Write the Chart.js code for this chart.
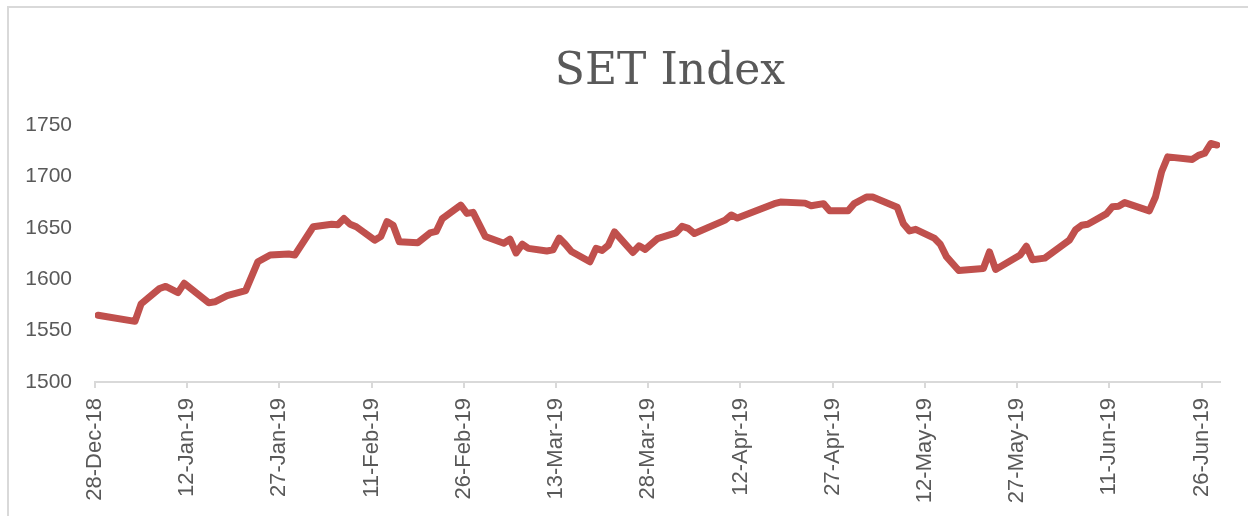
<!DOCTYPE html>
<html>
<head>
<meta charset="utf-8">
<script src="https://cdn.jsdelivr.net/npm/chart.js@4"></script>
<style>
  html, body { margin: 0; padding: 0; background: #ffffff; }
  #wrap { position: relative; width: 1248px; height: 516px; overflow: hidden; background: #ffffff; }
  #frame { position: absolute; left: 7px; top: 6px; width: 1300px; height: 600px; border-left: 2px solid #d9d9d9; border-top: 2px solid #d9d9d9; }
  #c { position: absolute; left: 0; top: 0; }
</style>
</head>
<body>
<div id="wrap">
  <div id="frame"></div>
  <canvas id="c" width="1248" height="516"></canvas>
</div>
<script>
const titleText = 'SET Index';
const startDate = '2018-12-28';

const dates = [
  '2018-12-28','2019-01-03','2019-01-04','2019-01-07','2019-01-08','2019-01-10','2019-01-11',
  '2019-01-15','2019-01-16','2019-01-18','2019-01-21','2019-01-23','2019-01-25','2019-01-28',
  '2019-01-29','2019-02-01','2019-02-04','2019-02-05','2019-02-06','2019-02-07','2019-02-08',
  '2019-02-11','2019-02-12','2019-02-13','2019-02-14','2019-02-15','2019-02-18','2019-02-20',
  '2019-02-21','2019-02-22','2019-02-25','2019-02-26','2019-02-27','2019-03-01','2019-03-04',
  '2019-03-05','2019-03-06','2019-03-07','2019-03-08','2019-03-11','2019-03-12','2019-03-13',
  '2019-03-14','2019-03-15','2019-03-18','2019-03-19','2019-03-20','2019-03-21','2019-03-22',
  '2019-03-25','2019-03-26','2019-03-27','2019-03-29','2019-04-01','2019-04-02','2019-04-03',
  '2019-04-04','2019-04-09','2019-04-10','2019-04-11','2019-04-17','2019-04-18','2019-04-22',
  '2019-04-23','2019-04-25','2019-04-26','2019-04-29','2019-04-30','2019-05-02','2019-05-03',
  '2019-05-07','2019-05-08','2019-05-09','2019-05-10','2019-05-13','2019-05-14','2019-05-15',
  '2019-05-17','2019-05-21','2019-05-22','2019-05-23','2019-05-27','2019-05-28','2019-05-29',
  '2019-05-31','2019-06-04','2019-06-05','2019-06-06','2019-06-07','2019-06-10','2019-06-11',
  '2019-06-12','2019-06-13','2019-06-17','2019-06-18','2019-06-19','2019-06-20','2019-06-24',
  '2019-06-25','2019-06-26','2019-06-27','2019-06-28'
];

const setIndex = [
  1565, 1559, 1576, 1591, 1593, 1587, 1596,
  1577, 1578, 1584, 1589, 1617, 1623.5, 1624.5,
  1623.5, 1651, 1653.5, 1653, 1659, 1653.5, 1651,
  1638, 1641.5, 1656, 1652.5, 1636.5, 1635.5, 1645,
  1646.5, 1659, 1672, 1664, 1665, 1641.5, 1635,
  1639, 1625.5, 1634, 1630, 1627.5, 1628.5, 1640,
  1634, 1627, 1617, 1630, 1628, 1633, 1646,
  1626, 1632.5, 1629, 1639.5, 1645, 1651.5, 1649.5,
  1644.5, 1657.5, 1662.5, 1659.5, 1673.5, 1675, 1674,
  1671.5, 1673.5, 1666.5, 1666.5, 1673.5, 1680, 1680,
  1670, 1654, 1647, 1648.5, 1640, 1634, 1622,
  1608.5, 1610.5, 1626.5, 1609.5, 1623.5, 1632, 1619,
  1620.5, 1638, 1648, 1652.5, 1653.5, 1663.5, 1670.5,
  1671, 1674.5, 1666.5, 1680, 1704.5, 1719, 1716.5,
  1720.5, 1722.5, 1732, 1730.5
];

const tickDates = [
  '2018-12-28','2019-01-12','2019-01-27','2019-02-11','2019-02-26','2019-03-13','2019-03-28',
  '2019-04-12','2019-04-27','2019-05-12','2019-05-27','2019-06-11','2019-06-26'
];
const tickLabels = [
  '28-Dec-18','12-Jan-19','27-Jan-19','11-Feb-19','26-Feb-19','13-Mar-19','28-Mar-19',
  '12-Apr-19','27-Apr-19','12-May-19','27-May-19','11-Jun-19','26-Jun-19'
];

const yMin = 1500, yMax = 1750, yStep = 50;

const DAY = 86400000;
const t0 = Date.parse(startDate);
const toDay = s => (Date.parse(s) - t0) / DAY;
const points = dates.map((d, i) => ({ x: toDay(d) + 0.5, y: setIndex[i] }));
const tickPos = tickDates.map(toDay);

const textColor = '#595959';
const yFont = { family: '"Liberation Sans", Arial, sans-serif', size: 21 };
const xFont = { family: '"Liberation Sans", Arial, sans-serif', size: 22 };

const titlePlugin = {
  id: 'centeredTitle',
  afterDraw(chart) {
    const ctx = chart.ctx;
    ctx.save();
    ctx.font = '44px "DejaVu Serif", serif';
    ctx.fillStyle = textColor;
    ctx.textAlign = 'center';
    ctx.textBaseline = 'alphabetic';
    ctx.fillText(titleText, 670, 84);
    ctx.restore();
  }
};

new Chart(document.getElementById('c'), {
  type: 'line',
  data: {
    datasets: [{
      label: titleText,
      data: points,
      borderColor: '#C0504D',
      backgroundColor: '#C0504D',
      borderWidth: 7,
      pointRadius: 0,
      tension: 0,
      borderCapStyle: 'round',
      borderJoinStyle: 'round',
      fill: false
    }]
  },
  options: {
    responsive: false,
    animation: false,
    devicePixelRatio: 1,
    layout: { padding: { top: 125, right: 28, left: 0, bottom: 0 } },
    plugins: {
      legend: { display: false },
      title: { display: false },
      tooltip: { enabled: false }
    },
    scales: {
      x: {
        type: 'linear',
        min: 0,
        max: 183,
        afterBuildTicks: s => { s.ticks = tickPos.map(v => ({ value: v })); },
        afterFit: s => { s.height = 134; },
        ticks: {
          autoSkip: false,
          minRotation: 90,
          maxRotation: 90,
          padding: 10,
          color: textColor,
          font: xFont,
          callback: (v, i) => tickLabels[i]
        },
        grid: { drawOnChartArea: false, drawTicks: true, tickLength: 6, color: '#d9d9d9', lineWidth: 2 },
        border: { color: '#d9d9d9', width: 2 }
      },
      y: {
        min: yMin,
        max: yMax,
        afterFit: s => { s.width = 95; },
        ticks: { stepSize: yStep, padding: 15, color: textColor, font: yFont, callback: v => String(v) },
        grid: { display: false },
        border: { display: false }
      }
    }
  },
  plugins: [titlePlugin]
});
</script>
</body>
</html>
